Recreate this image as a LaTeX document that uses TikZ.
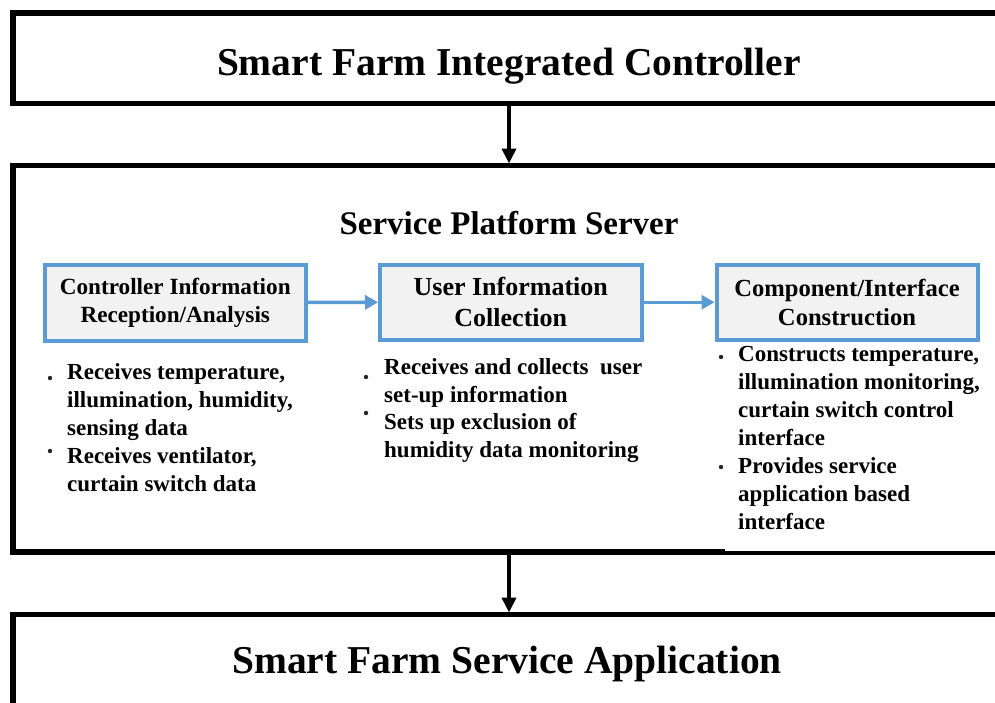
\documentclass[tikz,border=0pt]{standalone}
\usepackage{fontspec}
\setmainfont{Liberation Serif}
\usetikzlibrary{arrows.meta}
\definecolor{bblue}{RGB}{91,155,213}
\definecolor{bfill}{RGB}{242,242,242}
\begin{document}
\begin{tikzpicture}[x=1pt,y=-1pt,
  bigbox/.style={draw=black, line width=5.5pt, rectangle, outer sep=0pt, inner sep=0pt, anchor=north west},
  bluebox/.style={draw=bblue, fill=bfill, line width=4pt, rectangle, outer sep=0pt, inner sep=0pt, align=center, font=\bfseries},
  bigtitle/.style={anchor=base, inner sep=0pt, font=\fontsize{39.5}{44}\selectfont\bfseries},
  btxt/.style={anchor=base west, inner sep=0pt, font=\fontsize{23}{28}\selectfont\bfseries},
  dotmark/.style={circle, fill=black!85, inner sep=0pt, minimum size=4.4pt},
  blackarrow/.style={line width=4pt, -{Triangle[width=14pt,length=15pt]}},
  bluearrow/.style={draw=bblue, line width=3.5pt, -{Triangle[width=14pt,length=13pt]}}]
\useasboundingbox (0,0) rectangle (995,702);
\clip (0,0) rectangle (995,702);
\fill[white] (0,0) rectangle (995,702);

% big frames
\node[bigbox, minimum width=1000pt, minimum height=90.5pt] (ctrl) at (13,13) {};
\node[bigbox, minimum width=1000pt, minimum height=386.5pt] (server) at (13,165.5) {};
\node[bigbox, minimum width=1000pt, minimum height=200pt] (app) at (13,614.5) {};
\fill[white] (725,344) rectangle (1000,550.5);

% titles
\node[bigtitle] (t1) at (509,75) {Smart Farm Integrated Controller};
\node[anchor=base, inner sep=0pt, font=\fontsize{33}{38}\selectfont\bfseries] (t2) at (509,234) {Service Platform Server};
\node[bigtitle] (t3) at (507,673) {Smart Farm Service Application};

% black arrows
\draw[blackarrow, shorten >=2pt] (t1.base |- ctrl.south) -- (t1.base |- server.north);
\draw[blackarrow, shorten >=2pt] (t1.base |- server.south) -- (t1.base |- app.north);

% blue boxes
\node[bluebox, minimum width=261.5pt, minimum height=76pt, font=\fontsize{23.2}{28}\selectfont\bfseries] (b1) at (175.25,302.5) {Controller Information\\Reception/Analysis};
\node[bluebox, minimum width=261.5pt, minimum height=74.5pt, font=\fontsize{26}{31}\selectfont\bfseries] (b2) at (510.75,302.25) {User Information\\Collection};
\node[bluebox, minimum width=261pt, minimum height=74.5pt, font=\fontsize{24.6}{29}\selectfont\bfseries] (b3) at (847,302.25) {Component/Interface\\Construction};

\draw[bluearrow, shorten >=2pt] (b1.east) -- (b2.west);
\draw[bluearrow, shorten >=2pt] (b2.east) -- (b3.west);

% column 1
\node[dotmark] (d11) at (50,378) {};
\node[btxt] (c11) at (67,379) {Receives temperature,};
\node[btxt] (c12) at (67,407) {illumination, humidity,};
\node[btxt] (c13) at (67,435) {sensing data};
\node[dotmark] (d12) at (50,451) {};
\node[btxt] (c14) at (67,463) {Receives ventilator,};
\node[btxt] (c15) at (67,491) {curtain switch data};

% column 2
\node[dotmark] (d21) at (366,377) {};
\node[btxt] (c21) at (384,374) {Receives and collects\ \ user};
\node[btxt] (c22) at (384,402) {set-up information};
\node[dotmark] (d22) at (366,413) {};
\node[btxt] (c23) at (384,429) {Sets up exclusion of};
\node[btxt] (c24) at (384,457) {humidity data monitoring};

% column 3
\node[dotmark] (d31) at (721,357) {};
\node[btxt] (c31) at (738,361) {Constructs temperature,};
\node[btxt] (c32) at (738,389) {illumination monitoring,};
\node[btxt] (c33) at (738,417) {curtain switch control};
\node[btxt] (c34) at (738,445) {interface};
\node[dotmark] (d32) at (721,467) {};
\node[btxt] (c35) at (738,473) {Provides service};
\node[btxt] (c36) at (738,501) {application based};
\node[btxt] (c37) at (738,529) {interface};
\end{tikzpicture}
\end{document}
